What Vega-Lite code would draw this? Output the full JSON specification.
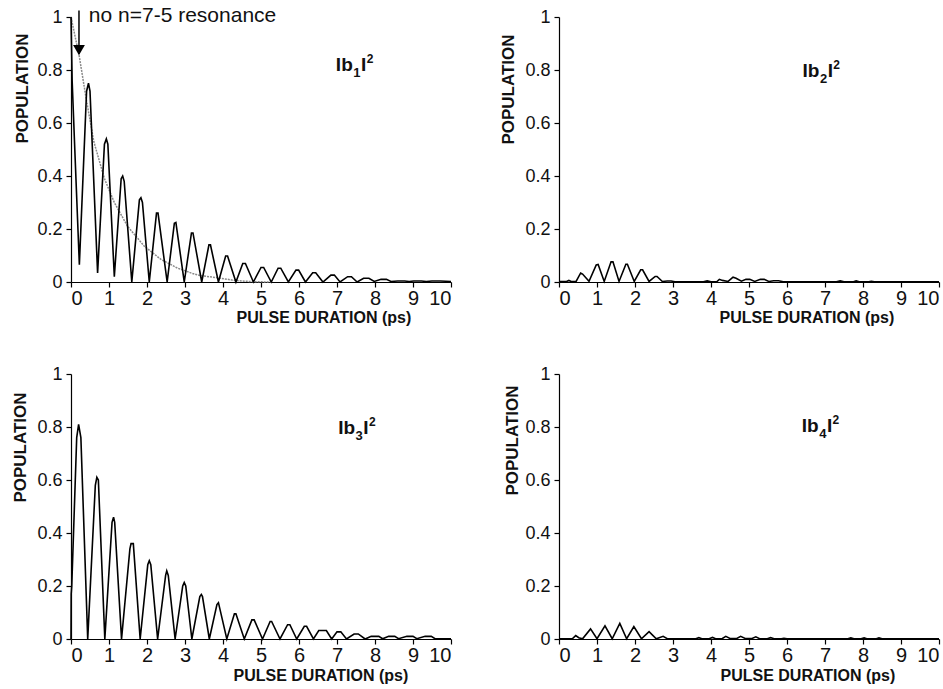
{
  "$schema": "https://vega.github.io/schema/vega-lite/v6.json",
  "background": "white",
  "padding": {"left": 10, "top": 5, "right": 5, "bottom": 5},
  "config": {
    "view": {"stroke": null},
    "font": "Liberation Sans",
    "axis": {"grid": false, "domainColor": "black", "tickColor": "black", "labelColor": "#111", "titleColor": "#111", "labelFont": "Liberation Sans", "titleFont": "Liberation Sans", "titleFontWeight": "bold", "titleFontSize": 16, "tickSize": 5, "domainWidth": 1.2, "tickWidth": 1.2}
  },
  "datasets": {
    "series": [
      {"p":"b1","t":0,"v":1.0},{"p":"b1","t":0.03,"v":0.76},{"p":"b1","t":0.1,"v":0.5},{"p":"b1","t":0.22,"v":0.065},{"p":"b1","t":0.41,"v":0.72},{"p":"b1","t":0.46,"v":0.75},{"p":"b1","t":0.5,"v":0.72},{"p":"b1","t":0.7,"v":0.034},{"p":"b1","t":0.88,"v":0.52},{"p":"b1","t":0.93,"v":0.54},{"p":"b1","t":0.97,"v":0.52},{"p":"b1","t":1.14,"v":0.02},{"p":"b1","t":1.32,"v":0.39},{"p":"b1","t":1.36,"v":0.4},{"p":"b1","t":1.4,"v":0.38},{"p":"b1","t":1.6,"v":0.0},{"p":"b1","t":1.8,"v":0.31},{"p":"b1","t":1.84,"v":0.318},{"p":"b1","t":1.88,"v":0.3},{"p":"b1","t":2.06,"v":0.0},{"p":"b1","t":2.25,"v":0.26},{"p":"b1","t":2.29,"v":0.26},{"p":"b1","t":2.53,"v":0.0},{"p":"b1","t":2.72,"v":0.222},{"p":"b1","t":2.76,"v":0.225},{"p":"b1","t":2.98,"v":0.0},{"p":"b1","t":3.17,"v":0.185},{"p":"b1","t":3.21,"v":0.185},{"p":"b1","t":3.44,"v":0.0},{"p":"b1","t":3.63,"v":0.14},{"p":"b1","t":3.67,"v":0.14},{"p":"b1","t":3.88,"v":0.0},{"p":"b1","t":4.07,"v":0.098},{"p":"b1","t":4.12,"v":0.098},{"p":"b1","t":4.34,"v":0.0},{"p":"b1","t":4.52,"v":0.07},{"p":"b1","t":4.59,"v":0.07},{"p":"b1","t":4.8,"v":0.0},{"p":"b1","t":5.0,"v":0.055},{"p":"b1","t":5.07,"v":0.055},{"p":"b1","t":5.27,"v":0.0},{"p":"b1","t":5.45,"v":0.052},{"p":"b1","t":5.52,"v":0.052},{"p":"b1","t":5.72,"v":0.0},{"p":"b1","t":5.92,"v":0.045},{"p":"b1","t":5.99,"v":0.045},{"p":"b1","t":6.17,"v":0.0},{"p":"b1","t":6.36,"v":0.035},{"p":"b1","t":6.44,"v":0.035},{"p":"b1","t":6.63,"v":0.0},{"p":"b1","t":6.84,"v":0.026},{"p":"b1","t":6.93,"v":0.026},{"p":"b1","t":7.08,"v":0.0},{"p":"b1","t":7.28,"v":0.02},{"p":"b1","t":7.38,"v":0.02},{"p":"b1","t":7.53,"v":0.0},{"p":"b1","t":7.7,"v":0.014},{"p":"b1","t":7.84,"v":0.014},{"p":"b1","t":7.98,"v":0.002},{"p":"b1","t":8.16,"v":0.01},{"p":"b1","t":8.3,"v":0.01},{"p":"b1","t":8.42,"v":0.002},{"p":"b1","t":8.6,"v":0.004},{"p":"b1","t":8.78,"v":0.004},{"p":"b1","t":8.9,"v":0.002},{"p":"b1","t":9.02,"v":0.004},{"p":"b1","t":9.22,"v":0.004},{"p":"b1","t":9.35,"v":0.002},{"p":"b1","t":9.5,"v":0.004},{"p":"b1","t":9.72,"v":0.004},{"p":"b1","t":10,"v":0.002},

      {"p":"b2","t":0,"v":0.002},{"p":"b2","t":0.2,"v":0.002},{"p":"b2","t":0.26,"v":0.006},{"p":"b2","t":0.32,"v":0.002},{"p":"b2","t":0.45,"v":0.002},{"p":"b2","t":0.57,"v":0.034},{"p":"b2","t":0.62,"v":0.03},{"p":"b2","t":0.79,"v":0.003},{"p":"b2","t":0.98,"v":0.064},{"p":"b2","t":1.03,"v":0.066},{"p":"b2","t":1.19,"v":0.002},{"p":"b2","t":1.37,"v":0.076},{"p":"b2","t":1.42,"v":0.076},{"p":"b2","t":1.58,"v":0.002},{"p":"b2","t":1.76,"v":0.067},{"p":"b2","t":1.8,"v":0.067},{"p":"b2","t":1.98,"v":0.002},{"p":"b2","t":2.15,"v":0.046},{"p":"b2","t":2.2,"v":0.046},{"p":"b2","t":2.37,"v":0.002},{"p":"b2","t":2.53,"v":0.021},{"p":"b2","t":2.58,"v":0.021},{"p":"b2","t":2.72,"v":0.002},{"p":"b2","t":2.85,"v":0.004},{"p":"b2","t":2.95,"v":0.004},{"p":"b2","t":3.05,"v":0.001},{"p":"b2","t":3.8,"v":0.001},{"p":"b2","t":3.9,"v":0.004},{"p":"b2","t":4.0,"v":0.001},{"p":"b2","t":4.15,"v":0.001},{"p":"b2","t":4.22,"v":0.01},{"p":"b2","t":4.3,"v":0.006},{"p":"b2","t":4.45,"v":0.002},{"p":"b2","t":4.58,"v":0.018},{"p":"b2","t":4.66,"v":0.014},{"p":"b2","t":4.8,"v":0.003},{"p":"b2","t":4.92,"v":0.01},{"p":"b2","t":5.02,"v":0.01},{"p":"b2","t":5.15,"v":0.002},{"p":"b2","t":5.3,"v":0.01},{"p":"b2","t":5.4,"v":0.01},{"p":"b2","t":5.52,"v":0.002},{"p":"b2","t":5.65,"v":0.005},{"p":"b2","t":5.78,"v":0.005},{"p":"b2","t":5.9,"v":0.001},{"p":"b2","t":7.3,"v":0.001},{"p":"b2","t":7.4,"v":0.004},{"p":"b2","t":7.5,"v":0.001},{"p":"b2","t":7.75,"v":0.001},{"p":"b2","t":7.82,"v":0.004},{"p":"b2","t":7.9,"v":0.001},{"p":"b2","t":8.15,"v":0.001},{"p":"b2","t":8.22,"v":0.003},{"p":"b2","t":8.3,"v":0.001},{"p":"b2","t":10,"v":0.001},

      {"p":"b3","t":0,"v":0.0},{"p":"b3","t":0.005,"v":0.17},{"p":"b3","t":0.02,"v":0.2},{"p":"b3","t":0.15,"v":0.76},{"p":"b3","t":0.2,"v":0.81},{"p":"b3","t":0.26,"v":0.76},{"p":"b3","t":0.44,"v":0.0},{"p":"b3","t":0.64,"v":0.58},{"p":"b3","t":0.68,"v":0.61},{"p":"b3","t":0.72,"v":0.6},{"p":"b3","t":0.89,"v":0.0},{"p":"b3","t":1.08,"v":0.44},{"p":"b3","t":1.12,"v":0.46},{"p":"b3","t":1.15,"v":0.44},{"p":"b3","t":1.33,"v":0.0},{"p":"b3","t":1.55,"v":0.34},{"p":"b3","t":1.58,"v":0.36},{"p":"b3","t":1.64,"v":0.36},{"p":"b3","t":1.82,"v":0.0},{"p":"b3","t":2.02,"v":0.28},{"p":"b3","t":2.06,"v":0.295},{"p":"b3","t":2.1,"v":0.28},{"p":"b3","t":2.28,"v":0.0},{"p":"b3","t":2.49,"v":0.24},{"p":"b3","t":2.52,"v":0.257},{"p":"b3","t":2.56,"v":0.24},{"p":"b3","t":2.74,"v":0.0},{"p":"b3","t":2.94,"v":0.2},{"p":"b3","t":2.98,"v":0.213},{"p":"b3","t":3.02,"v":0.2},{"p":"b3","t":3.18,"v":0.0},{"p":"b3","t":3.39,"v":0.16},{"p":"b3","t":3.43,"v":0.168},{"p":"b3","t":3.46,"v":0.16},{"p":"b3","t":3.64,"v":0.0},{"p":"b3","t":3.84,"v":0.13},{"p":"b3","t":3.88,"v":0.137},{"p":"b3","t":4.1,"v":0.0},{"p":"b3","t":4.3,"v":0.095},{"p":"b3","t":4.34,"v":0.095},{"p":"b3","t":4.56,"v":0.0},{"p":"b3","t":4.76,"v":0.072},{"p":"b3","t":4.82,"v":0.072},{"p":"b3","t":5.04,"v":0.0},{"p":"b3","t":5.24,"v":0.066},{"p":"b3","t":5.28,"v":0.066},{"p":"b3","t":5.5,"v":0.0},{"p":"b3","t":5.7,"v":0.054},{"p":"b3","t":5.76,"v":0.054},{"p":"b3","t":5.94,"v":0.0},{"p":"b3","t":6.14,"v":0.048},{"p":"b3","t":6.2,"v":0.048},{"p":"b3","t":6.38,"v":0.0},{"p":"b3","t":6.52,"v":0.032},{"p":"b3","t":6.72,"v":0.032},{"p":"b3","t":6.86,"v":0.0},{"p":"b3","t":7.0,"v":0.027},{"p":"b3","t":7.1,"v":0.027},{"p":"b3","t":7.25,"v":0.0},{"p":"b3","t":7.45,"v":0.019},{"p":"b3","t":7.56,"v":0.019},{"p":"b3","t":7.74,"v":0.0},{"p":"b3","t":7.9,"v":0.01},{"p":"b3","t":8.1,"v":0.01},{"p":"b3","t":8.2,"v":0.001},{"p":"b3","t":8.36,"v":0.01},{"p":"b3","t":8.52,"v":0.01},{"p":"b3","t":8.62,"v":0.001},{"p":"b3","t":8.84,"v":0.01},{"p":"b3","t":9.0,"v":0.01},{"p":"b3","t":9.1,"v":0.001},{"p":"b3","t":9.32,"v":0.01},{"p":"b3","t":9.48,"v":0.01},{"p":"b3","t":9.58,"v":0.001},{"p":"b3","t":10,"v":0.001},

      {"p":"b4","t":0,"v":0.001},{"p":"b4","t":0.35,"v":0.001},{"p":"b4","t":0.44,"v":0.013},{"p":"b4","t":0.52,"v":0.005},{"p":"b4","t":0.62,"v":0.001},{"p":"b4","t":0.83,"v":0.038},{"p":"b4","t":1.0,"v":0.001},{"p":"b4","t":1.21,"v":0.05},{"p":"b4","t":1.4,"v":0.001},{"p":"b4","t":1.6,"v":0.059},{"p":"b4","t":1.78,"v":0.001},{"p":"b4","t":1.97,"v":0.047},{"p":"b4","t":2.17,"v":0.001},{"p":"b4","t":2.37,"v":0.028},{"p":"b4","t":2.56,"v":0.001},{"p":"b4","t":2.74,"v":0.01},{"p":"b4","t":2.85,"v":0.001},{"p":"b4","t":3.6,"v":0.001},{"p":"b4","t":3.68,"v":0.005},{"p":"b4","t":3.76,"v":0.001},{"p":"b4","t":3.95,"v":0.001},{"p":"b4","t":4.04,"v":0.006},{"p":"b4","t":4.12,"v":0.001},{"p":"b4","t":4.3,"v":0.002},{"p":"b4","t":4.39,"v":0.01},{"p":"b4","t":4.5,"v":0.002},{"p":"b4","t":4.68,"v":0.002},{"p":"b4","t":4.78,"v":0.01},{"p":"b4","t":4.9,"v":0.002},{"p":"b4","t":5.08,"v":0.002},{"p":"b4","t":5.18,"v":0.008},{"p":"b4","t":5.28,"v":0.001},{"p":"b4","t":5.48,"v":0.001},{"p":"b4","t":5.57,"v":0.005},{"p":"b4","t":5.66,"v":0.001},{"p":"b4","t":5.85,"v":0.001},{"p":"b4","t":5.92,"v":0.003},{"p":"b4","t":6.0,"v":0.001},{"p":"b4","t":7.6,"v":0.001},{"p":"b4","t":7.68,"v":0.004},{"p":"b4","t":7.76,"v":0.001},{"p":"b4","t":7.95,"v":0.001},{"p":"b4","t":8.03,"v":0.004},{"p":"b4","t":8.1,"v":0.001},{"p":"b4","t":8.35,"v":0.001},{"p":"b4","t":8.42,"v":0.004},{"p":"b4","t":8.5,"v":0.001},{"p":"b4","t":10,"v":0.001}
    ],
    "envelope": [
      {"t":0,"v":1.0},{"t":0.22,"v":0.85},{"t":0.39,"v":0.7},{"t":0.6,"v":0.53},{"t":0.88,"v":0.39},{"t":1.14,"v":0.3},{"t":1.49,"v":0.21},{"t":1.93,"v":0.135},{"t":2.37,"v":0.085},{"t":2.81,"v":0.052},{"t":3.2,"v":0.032},{"t":3.42,"v":0.024},{"t":3.86,"v":0.016},{"t":4.3,"v":0.006},{"t":4.8,"v":0.001},{"t":5.3,"v":0.0}
    ],
    "labels": [
      {"p":"b1","role":"main","t":6.97,"v":0.796,"label":"Ib"},
      {"p":"b1","role":"sub","t":7.43,"v":0.773,"label":"1"},
      {"p":"b1","role":"main","t":7.63,"v":0.796,"label":"I"},
      {"p":"b1","role":"sup","t":7.78,"v":0.826,"label":"2"},
      {"p":"b2","role":"main","t":6.41,"v":0.775,"label":"Ib"},
      {"p":"b2","role":"sub","t":6.87,"v":0.752,"label":"2"},
      {"p":"b2","role":"main","t":7.07,"v":0.775,"label":"I"},
      {"p":"b2","role":"sup","t":7.22,"v":0.805,"label":"2"},
      {"p":"b3","role":"main","t":7.03,"v":0.773,"label":"Ib"},
      {"p":"b3","role":"sub","t":7.49,"v":0.75,"label":"3"},
      {"p":"b3","role":"main","t":7.69,"v":0.773,"label":"I"},
      {"p":"b3","role":"sup","t":7.84,"v":0.803,"label":"2"},
      {"p":"b4","role":"main","t":6.39,"v":0.78,"label":"Ib"},
      {"p":"b4","role":"sub","t":6.85,"v":0.757,"label":"4"},
      {"p":"b4","role":"main","t":7.05,"v":0.78,"label":"I"},
      {"p":"b4","role":"sup","t":7.2,"v":0.81,"label":"2"}
    ],
    "arrow": [{"t":0.21,"v":1.025,"v2":0.86,"head":0.875,"tx":0.47,"ty":0.98,"note":"no n=7-5 resonance"}]
  },
  "columns": 2,
  "spacing": {"row": 40, "column": 43},
  "concat": [
    {
      "width": 380, "height": 265,
      "encoding": {
        "x": {"field": "t", "type": "quantitative", "scale": {"domain": [0, 10], "nice": false}, "axis": {"title": "PULSE DURATION (ps)", "values": [0,1,2,3,4,5,6,7,8,9,10], "labelFontSize": 20, "labelPadding": 1, "titleX": 165, "titleY": 40, "titleAlign": "left", "titleBaseline": "alphabetic"}},
        "y": {"field": "v", "type": "quantitative", "scale": {"domain": [0, 1], "nice": false}, "axis": {"title": "POPULATION", "values": [0,0.2,0.4,0.6,0.8,1], "format": "~g", "labelFontSize": 18, "labelPadding": 4, "titleFontSize": 17, "titleX": -49, "titleY": 71, "titleAlign": "center", "titleBaseline": "middle"}}
      },
      "layer": [
        {"data": {"name": "envelope"}, "mark": {"type": "line", "color": "#8a8a8a", "strokeWidth": 1.5, "strokeDash": [2, 1]}},
        {"data": {"name": "series"}, "transform": [{"filter": "datum.p == 'b1'"}], "mark": {"type": "line", "color": "black", "strokeWidth": 1.6}},
        {"data": {"name": "labels"}, "transform": [{"filter": "datum.p == 'b1' && datum.role == 'main'"}], "mark": {"type": "text", "align": "left", "baseline": "alphabetic", "fontSize": 19, "fontWeight": "bold", "color": "#111"}, "encoding": {"text": {"field": "label"}}},
        {"data": {"name": "labels"}, "transform": [{"filter": "datum.p == 'b1' && datum.role == 'sub'"}], "mark": {"type": "text", "align": "left", "baseline": "alphabetic", "fontSize": 13, "fontWeight": "bold", "color": "#111"}, "encoding": {"text": {"field": "label"}}},
        {"data": {"name": "labels"}, "transform": [{"filter": "datum.p == 'b1' && datum.role == 'sup'"}], "mark": {"type": "text", "align": "left", "baseline": "alphabetic", "fontSize": 12, "fontWeight": "bold", "color": "#111"}, "encoding": {"text": {"field": "label"}}},
        {"data": {"name": "arrow"}, "mark": {"type": "rule", "color": "black", "strokeWidth": 1.5}, "encoding": {"y2": {"field": "v2"}}},
        {"data": {"name": "arrow"}, "mark": {"type": "point", "shape": "triangle-down", "filled": true, "color": "black", "size": 140, "opacity": 1}, "encoding": {"y": {"field": "head", "type": "quantitative"}}},
        {"data": {"name": "arrow"}, "mark": {"type": "text", "align": "left", "baseline": "alphabetic", "fontSize": 21, "color": "#111"}, "encoding": {"x": {"field": "tx", "type": "quantitative"}, "y": {"field": "ty", "type": "quantitative"}, "text": {"field": "note"}}}
      ]
    },
    {
      "width": 380, "height": 265,
      "encoding": {
        "x": {"field": "t", "type": "quantitative", "scale": {"domain": [0, 10], "nice": false}, "axis": {"title": "PULSE DURATION (ps)", "values": [0,1,2,3,4,5,6,7,8,9,10], "labelFontSize": 20, "labelPadding": 1, "titleX": 160, "titleY": 40, "titleAlign": "left", "titleBaseline": "alphabetic"}},
        "y": {"field": "v", "type": "quantitative", "scale": {"domain": [0, 1], "nice": false}, "axis": {"title": "POPULATION", "values": [0,0.2,0.4,0.6,0.8,1], "format": "~g", "labelFontSize": 18, "labelPadding": 4, "titleFontSize": 17, "titleX": -51, "titleY": 72, "titleAlign": "center", "titleBaseline": "middle"}}
      },
      "layer": [
        {"data": {"name": "series"}, "transform": [{"filter": "datum.p == 'b2'"}], "mark": {"type": "line", "color": "black", "strokeWidth": 1.6}},
        {"data": {"name": "labels"}, "transform": [{"filter": "datum.p == 'b2' && datum.role == 'main'"}], "mark": {"type": "text", "align": "left", "baseline": "alphabetic", "fontSize": 19, "fontWeight": "bold", "color": "#111"}, "encoding": {"text": {"field": "label"}}},
        {"data": {"name": "labels"}, "transform": [{"filter": "datum.p == 'b2' && datum.role == 'sub'"}], "mark": {"type": "text", "align": "left", "baseline": "alphabetic", "fontSize": 13, "fontWeight": "bold", "color": "#111"}, "encoding": {"text": {"field": "label"}}},
        {"data": {"name": "labels"}, "transform": [{"filter": "datum.p == 'b2' && datum.role == 'sup'"}], "mark": {"type": "text", "align": "left", "baseline": "alphabetic", "fontSize": 12, "fontWeight": "bold", "color": "#111"}, "encoding": {"text": {"field": "label"}}}
      ]
    },
    {
      "width": 380, "height": 265,
      "encoding": {
        "x": {"field": "t", "type": "quantitative", "scale": {"domain": [0, 10], "nice": false}, "axis": {"title": "PULSE DURATION (ps)", "values": [0,1,2,3,4,5,6,7,8,9,10], "labelFontSize": 20, "labelPadding": 1, "titleX": 162, "titleY": 41, "titleAlign": "left", "titleBaseline": "alphabetic"}},
        "y": {"field": "v", "type": "quantitative", "scale": {"domain": [0, 1], "nice": false}, "axis": {"title": "POPULATION", "values": [0,0.2,0.4,0.6,0.8,1], "format": "~g", "labelFontSize": 18, "labelPadding": 4, "titleFontSize": 17, "titleX": -51, "titleY": 73, "titleAlign": "center", "titleBaseline": "middle"}}
      },
      "layer": [
        {"data": {"name": "series"}, "transform": [{"filter": "datum.p == 'b3'"}], "mark": {"type": "line", "color": "black", "strokeWidth": 1.6}},
        {"data": {"name": "labels"}, "transform": [{"filter": "datum.p == 'b3' && datum.role == 'main'"}], "mark": {"type": "text", "align": "left", "baseline": "alphabetic", "fontSize": 19, "fontWeight": "bold", "color": "#111"}, "encoding": {"text": {"field": "label"}}},
        {"data": {"name": "labels"}, "transform": [{"filter": "datum.p == 'b3' && datum.role == 'sub'"}], "mark": {"type": "text", "align": "left", "baseline": "alphabetic", "fontSize": 13, "fontWeight": "bold", "color": "#111"}, "encoding": {"text": {"field": "label"}}},
        {"data": {"name": "labels"}, "transform": [{"filter": "datum.p == 'b3' && datum.role == 'sup'"}], "mark": {"type": "text", "align": "left", "baseline": "alphabetic", "fontSize": 12, "fontWeight": "bold", "color": "#111"}, "encoding": {"text": {"field": "label"}}}
      ]
    },
    {
      "width": 380, "height": 265,
      "encoding": {
        "x": {"field": "t", "type": "quantitative", "scale": {"domain": [0, 10], "nice": false}, "axis": {"title": "PULSE DURATION (ps)", "values": [0,1,2,3,4,5,6,7,8,9,10], "labelFontSize": 20, "labelPadding": 1, "titleX": 161, "titleY": 41, "titleAlign": "left", "titleBaseline": "alphabetic"}},
        "y": {"field": "v", "type": "quantitative", "scale": {"domain": [0, 1], "nice": false}, "axis": {"title": "POPULATION", "values": [0,0.2,0.4,0.6,0.8,1], "format": "~g", "labelFontSize": 18, "labelPadding": 4, "titleFontSize": 17, "titleX": -47, "titleY": 66, "titleAlign": "center", "titleBaseline": "middle"}}
      },
      "layer": [
        {"data": {"name": "series"}, "transform": [{"filter": "datum.p == 'b4'"}], "mark": {"type": "line", "color": "black", "strokeWidth": 1.6}},
        {"data": {"name": "labels"}, "transform": [{"filter": "datum.p == 'b4' && datum.role == 'main'"}], "mark": {"type": "text", "align": "left", "baseline": "alphabetic", "fontSize": 19, "fontWeight": "bold", "color": "#111"}, "encoding": {"text": {"field": "label"}}},
        {"data": {"name": "labels"}, "transform": [{"filter": "datum.p == 'b4' && datum.role == 'sub'"}], "mark": {"type": "text", "align": "left", "baseline": "alphabetic", "fontSize": 13, "fontWeight": "bold", "color": "#111"}, "encoding": {"text": {"field": "label"}}},
        {"data": {"name": "labels"}, "transform": [{"filter": "datum.p == 'b4' && datum.role == 'sup'"}], "mark": {"type": "text", "align": "left", "baseline": "alphabetic", "fontSize": 12, "fontWeight": "bold", "color": "#111"}, "encoding": {"text": {"field": "label"}}}
      ]
    }
  ]
}
